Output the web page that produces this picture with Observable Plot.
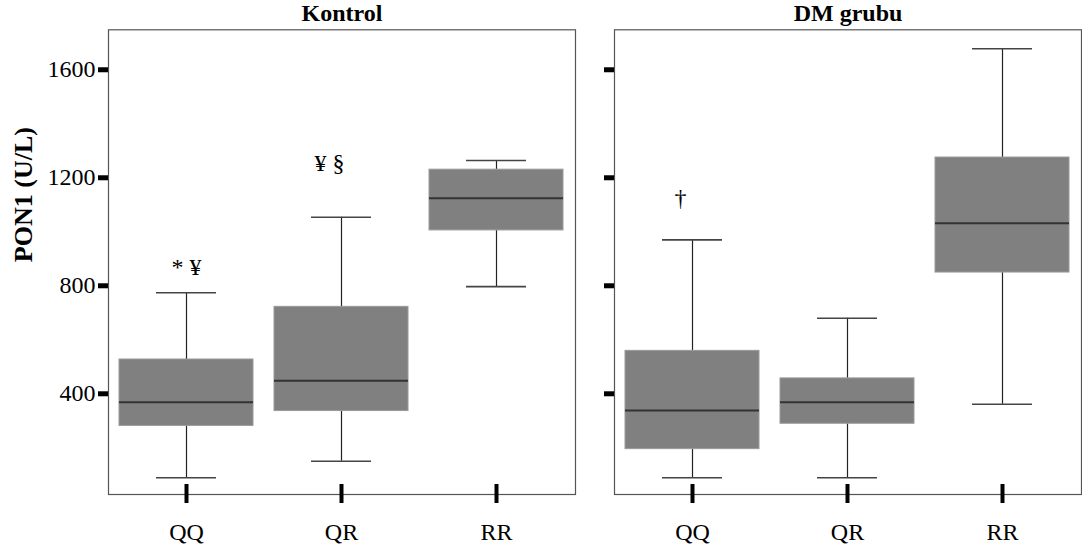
<!DOCTYPE html>
<html>
<head>
<meta charset="utf-8">
<script src="https://cdn.jsdelivr.net/npm/d3@7"></script>
<script src="https://cdn.jsdelivr.net/npm/@observablehq/plot@0.6"></script>
</head>
<body style="margin:0;background:#fff">
<div id="chart"></div>
<script>
// Panels and genotype categories
const facets = ["Kontrol", "DM grubu"];
const genotypes = ["QQ", "QR", "RR"];

// Box plot summaries, PON1 activity (U/L), in genotype order QQ, QR, RR
const kontrolMin    = [89, 150, 797];
const kontrolQ1     = [281, 336, 1005];
const kontrolMedian = [369, 448, 1124];
const kontrolQ3     = [527, 722, 1230];
const kontrolMax    = [774, 1054, 1264];

const dmMin    = [89, 89, 361];
const dmQ1     = [195, 289, 849];
const dmMedian = [338, 369, 1032];
const dmQ3     = [559, 457, 1275];
const dmMax    = [970, 680, 1678];

const yTicks = [400, 800, 1200, 1600];
const yLabel = "PON1 (U/L)";

// Significance markers placed above the boxes
const markFacets    = ["Kontrol", "Kontrol", "DM grubu"];
const markGenotypes = ["QQ", "QR", "QQ"];
const markLabels    = ["* ¥", "¥ §", "†"];
const markY         = [870, 1253, 1123];

// Long table for the box marks
const summaries = {
  "Kontrol": [kontrolMin, kontrolQ1, kontrolMedian, kontrolQ3, kontrolMax],
  "DM grubu": [dmMin, dmQ1, dmMedian, dmQ3, dmMax]
};
const rows = facets.flatMap(f => genotypes.map((g, i) => {
  const [mn, q1, md, q3, mx] = summaries[f];
  return {facet: f, genotype: g, min: mn[i], q1: q1[i], median: md[i], q3: q3[i], max: mx[i]};
}));
const marks = markLabels.map((label, i) => ({
  facet: markFacets[i], genotype: markGenotypes[i], y: markY[i], label
}));

const serif = "Liberation Serif";

const chart = Plot.plot({
  width: 1082,
  height: 554,
  marginLeft: 108,
  marginRight: 1,
  marginTop: 29.3,
  marginBottom: 60,
  fx: {domain: facets, paddingInner: 0.0771, paddingOuter: 0},
  x: {domain: genotypes, paddingInner: 0.135, paddingOuter: 0.0675},
  y: {domain: [27, 1748]},
  marks: [
    // lower and upper whiskers
    Plot.ruleX(rows, {fx: "facet", x: "genotype", y1: "min", y2: "q1", stroke: "#222", strokeWidth: 1.2}),
    Plot.ruleX(rows, {fx: "facet", x: "genotype", y1: "q3", y2: "max", stroke: "#222", strokeWidth: 1.2}),
    // interquartile boxes
    Plot.barY(rows, {fx: "facet", x: "genotype", y1: "q1", y2: "q3", fill: "#808080", stroke: "#9a9a9a", strokeWidth: 1}),
    // medians
    Plot.tickY(rows, {fx: "facet", x: "genotype", y: "median", stroke: "#333", strokeWidth: 2}),
    // whisker caps
    Plot.tickY(rows, {fx: "facet", x: "genotype", y: "min", insetLeft: 37, insetRight: 37, stroke: "#444", strokeWidth: 1.6}),
    Plot.tickY(rows, {fx: "facet", x: "genotype", y: "max", insetLeft: 37, insetRight: 37, stroke: "#444", strokeWidth: 1.6}),
    // significance markers
    Plot.text(marks.slice(0, 1), {fx: "facet", x: "genotype", y: "y", text: "label", fontSize: 24, fontFamily: serif}),
    Plot.text(marks.slice(1), {fx: "facet", x: "genotype", y: "y", text: "label", fontSize: 24, fontFamily: serif, dx: -12}),
    // panel frames
    Plot.frame({stroke: "#555", strokeWidth: 1.2}),
    // y axis: thick ticks in every panel, labels on the left panel
    Plot.axisY(yTicks, {tickSize: 10, strokeWidth: 5, fill: "none", facetAnchor: null, label: null}),
    Plot.axisY(yTicks, {tickSize: 0, tickPadding: 13, fontSize: 24, fontFamily: serif, tickFormat: d => String(d), label: null}),
    // x axis: thick ticks crossing the frame, genotype labels below
    Plot.axisX({tickSize: 19, dy: -10, strokeWidth: 4, fill: "none", label: null}),
    Plot.axisX({tickSize: 0, tickPadding: 28, fontSize: 24, fontFamily: serif, label: null}),
    // panel titles
    Plot.axisFx({anchor: "top", tickSize: 0, tickPadding: 9, fontSize: 24, fontFamily: serif, fontWeight: "bold", label: null}),
    // y axis title
    Plot.text([yLabel], {fx: () => "Kontrol", text: d => d, frameAnchor: "left", rotate: -90, dx: -85, fontSize: 26, fontFamily: serif, fontWeight: "bold"})
  ]
});

// serif type for every label
d3.select(chart).selectAll("text").style("font-family", serif);

document.getElementById("chart").append(chart);
</script>
</body>
</html>
